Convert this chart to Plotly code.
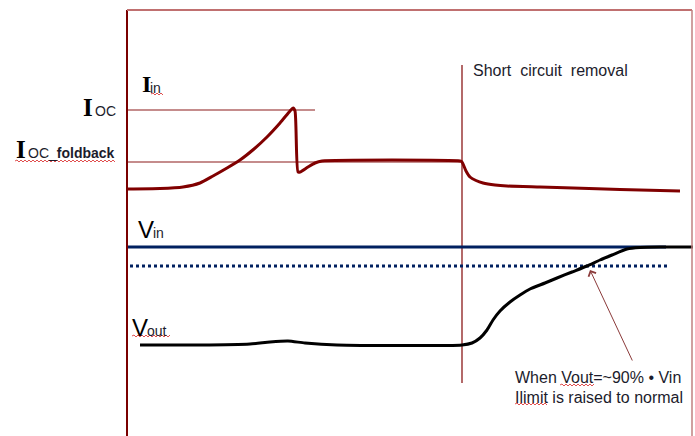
import plotly.graph_objects as go

# ---- data (schematic timing diagram, units) ----
iin_t = [127, 160, 183, 200, 213, 227, 240, 254, 267, 280, 290, 293, 295, 298, 300, 308, 315, 322,
         460, 462, 466, 470, 476, 483, 495, 507, 540, 573, 620, 680]
iin_val = [189, 188.5, 187, 183, 176, 168, 160, 149, 137, 123, 111, 108, 111, 172, 172, 167, 163, 161,
           161, 162, 171, 177, 180.5, 183, 185, 186, 187, 188, 189.5, 191]

vout_t = [140, 200, 250, 270, 288, 305, 337, 462, 472, 480, 487, 493, 500, 510, 520, 530, 545, 557,
          572, 587, 600, 612, 627, 640, 660, 693]
vout_val = [345, 345, 344, 342, 341, 343, 345, 345, 343, 338, 330, 320, 311, 302, 295, 289, 283, 278,
            272, 266, 260, 255, 249, 247.5, 247, 247]

vin_t = [127, 666]
vin_level = 247
vin90_t = [130, 667]
vin90_level = 266
ioc_t = [127, 315]
ioc_level = 110
iocfb_t = [127, 460]
iocfb_level = 162
removal_t = 462
removal_span = [65, 383]

W, H = 695, 436
NAVY = "#002060"

fig = go.Figure()

# reference levels
fig.add_trace(go.Scatter(x=ioc_t, y=[ioc_level] * 2, mode="lines",
                         line=dict(color="#8b1a1a", width=1.2), hoverinfo="skip"))
fig.add_trace(go.Scatter(x=iocfb_t, y=[iocfb_level] * 2, mode="lines",
                         line=dict(color="#8b1a1a", width=1.2), hoverinfo="skip"))
fig.add_trace(go.Scatter(x=[removal_t] * 2, y=removal_span, mode="lines",
                         line=dict(color="#8b1a1a", width=1.3), hoverinfo="skip"))
fig.add_trace(go.Scatter(x=vin90_t, y=[vin90_level] * 2, mode="lines",
                         line=dict(color=NAVY, width=3, dash="3px,3px"), hoverinfo="skip"))
fig.add_trace(go.Scatter(x=vin_t, y=[vin_level] * 2, mode="lines",
                         line=dict(color=NAVY, width=3), hoverinfo="skip"))
# waveforms
fig.add_trace(go.Scatter(x=iin_t, y=iin_val, mode="lines", line_shape="spline",
                         line=dict(color="#800000", width=3, smoothing=0.6), hoverinfo="skip"))
fig.add_trace(go.Scatter(x=vout_t, y=vout_val, mode="lines", line_shape="spline",
                         line=dict(color="#000000", width=3, smoothing=0.6), hoverinfo="skip"))

# frame
fig.add_shape(type="line", x0=127, x1=127, y0=10, y1=H, line=dict(color="#7a0000", width=2))
fig.add_shape(type="line", x0=127, x1=692, y0=10, y1=10, line=dict(color="#c07070", width=2))
fig.add_shape(type="line", x0=692, x1=692, y0=10, y1=H, line=dict(color="#c08080", width=1.5))


# spell-check squiggles (text decoration)
def squiggle(x0, x1, y):
    d = "M%g,%g" % (x0, y)
    x, up = x0, True
    while x < x1:
        x += 2
        d += " L%g,%g" % (x, y - 1 if up else y + 1)
        up = not up
    fig.add_shape(type="path", path=d, line=dict(color="#e05050", width=1))


squiggle(151, 163, 94)
squiggle(15, 115, 161)
squiggle(132, 170, 336)
squiggle(560, 593, 385)
squiggle(515, 547, 404)

SANS = "Liberation Sans"
SERIF = "Liberation Serif"
TXT = "#1c1c2c"


def ann(x, y, text, size, family=SANS, xanchor="left", color=TXT, bold=False):
    fig.add_annotation(x=x, y=y, text=("<b>%s</b>" % text) if bold else text, showarrow=False,
                       xanchor=xanchor, yanchor="middle", borderpad=0,
                       font=dict(family=family, size=size, color=color))


# Ioc
ann(94, 107, "I", 25, family=SERIF, xanchor="right", color="#000000", bold=True)
ann(94, 111, "OC", 14)
# Ioc foldback
ann(27, 149, "I", 25, family=SERIF, xanchor="right", color="#000000", bold=True)
ann(27, 153, "OC_<b>foldback</b>", 14)
# Iin
ann(152, 84, "I", 24, family=SERIF, xanchor="right", color="#000000", bold=True)
ann(149, 88, "in", 14)
# Vin
ann(137, 229, "V", 24, color="#000000")
ann(152, 233, "in", 14)
# Vout
ann(131, 327, "V", 24, color="#000000")
ann(146, 331, "out", 14)

# removal label
ann(472, 70, "Short\u00a0 circuit\u00a0 removal", 16)
# note
ann(514, 377, "When Vout=~90% \u2022 Vin", 16)
ann(514, 397, "Ilimit is raised to normal", 16)

# arrow
fig.add_annotation(x=590, y=270, ax=633, ay=362, xref="x", yref="y", axref="x", ayref="y",
                   text="", showarrow=True, arrowhead=4, arrowsize=1.6, arrowwidth=1,
                   arrowcolor="#8b3a3a")

fig.update_layout(width=W, height=H, margin=dict(l=0, r=0, t=0, b=0),
                  paper_bgcolor="white", plot_bgcolor="white", showlegend=False,
                  xaxis=dict(range=[0, W], visible=False, fixedrange=True),
                  yaxis=dict(range=[H, 0], visible=False, fixedrange=True))

fig.write_html("out.html", config={"displayModeBar": False},
               post_script="document.body.style.margin='0';")
